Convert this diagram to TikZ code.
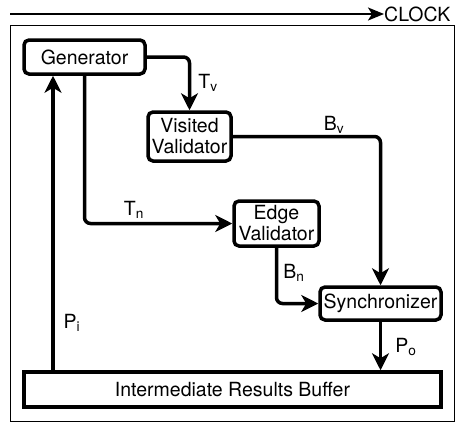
\documentclass[tikz,border=0pt]{standalone}
\usepackage{fontspec}
\setmainfont{TeX Gyre Heros}
\usepackage{tikz}
\usetikzlibrary{arrows.meta}
\tikzset{
 unit/.style={draw, line width=3.5pt, rounded corners=5pt, align=center, inner sep=1pt},
 flow/.style={line width=3.5pt, rounded corners=6pt, -{Stealth[length=17pt,width=17pt,inset=5pt]}},
 sig/.style={inner sep=0pt}
}

\begin{document}
\begin{tikzpicture}[x=1pt,y=-1pt,font=\fontsize{19.5}{21}\selectfont]
\useasboundingbox (0,0) rectangle (457,424);
% clock and frame
\coordinate (clkstart) at (10,14);
\node[sig, anchor=west] (clock) at (384,14) {CLOCK};
\draw[line width=2pt, -{Stealth[length=16pt,width=13pt,inset=4pt]}] (clkstart) -- (clock.west);
\draw[line width=1pt] (10,25) rectangle (454,421);

\node[unit, minimum width=121pt, minimum height=34pt] (gen) at (84.5,57) {Generator};
\node[unit, minimum width=83pt, minimum height=49pt] (vis) at (189.5,136.5) {Visited\\Validator};
\node[unit, minimum width=85pt, minimum height=45pt] (edge) at (276.5,223.5) {Edge\\Validator};
\node[unit, minimum width=121pt, minimum height=33pt] (sync) at (380.5,303.5) {Synchronizer};
\node[unit, rounded corners=0pt, minimum width=417pt, minimum height=35pt] (buf) at (232.5,389.5) {Intermediate Results Buffer};
\coordinate (pifoot) at (53,389.5);

\draw[flow] (gen.east) -| (vis.north);
\draw[flow] (vis.east) -| (sync.north);
\draw[flow] (gen.south) |- (edge.west);
\draw[flow] (edge.south) |- (sync.west);
\draw[flow] (sync.south) -- (sync.south |- buf.north);
\draw[flow] (buf.north -| pifoot) -- (gen.south -| pifoot);

\node[sig] (tv) at (208,83) {T\textsubscript{v}};
\node[sig] (bv) at (334,125) {B\textsubscript{v}};
\node[sig] (tn) at (134,210) {T\textsubscript{n}};
\node[sig] (bn) at (294,273) {B\textsubscript{n}};
\node[sig] (po) at (406,347) {P\textsubscript{o}};
\node[sig] (pi) at (72,323) {P\textsubscript{i}};
\end{tikzpicture}
\end{document}
